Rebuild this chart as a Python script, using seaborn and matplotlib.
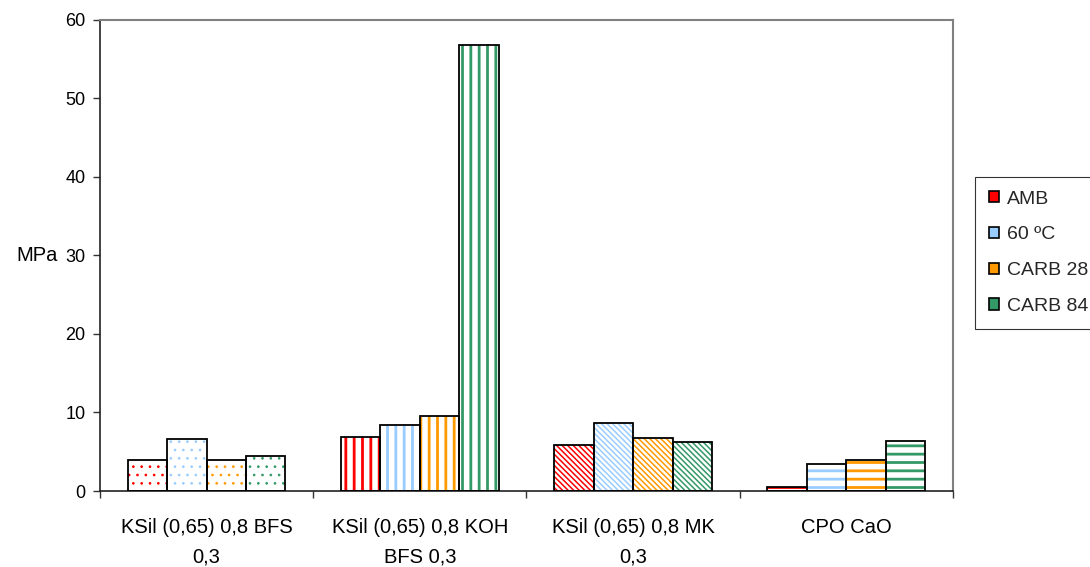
import numpy as np
import pandas as pd
import matplotlib
matplotlib.use("Agg")
import matplotlib.pyplot as plt
import seaborn as sns
from matplotlib.patches import Patch, Rectangle

# data
groups = ["KSil (0,65) 0,8 BFS\n0,3", "KSil (0,65) 0,8 KOH\nBFS 0,3",
          "KSil (0,65) 0,8 MK\n0,3", "CPO CaO"]
series = ["AMB", "60 ºC", "CARB 28", "CARB 84"]
amb = [4.0, 6.9, 5.9, 0.5]
c60 = [6.6, 8.4, 8.7, 3.4]
carb28 = [4.0, 9.6, 6.8, 4.0]
carb84 = [4.5, 56.8, 6.3, 6.4]
colors = ["#FF0000", "#99CCFF", "#FF9900", "#339966"]
hatches = ["..", "||", "\\\\\\\\\\\\", "--"]   # one pattern per group
hatch_lw = [0.7, 2.0, 1.1, 2.0]

df = pd.DataFrame({
    "group": np.repeat(groups, len(series)),
    "series": series * len(groups),
    "MPa": np.column_stack([amb, c60, carb28, carb84]).ravel(),
})

sns.set_theme(style="white")
plt.rcParams["font.family"] = ["Liberation Sans", "DejaVu Sans"]
plt.rcParams["hatch.linewidth"] = 1.8

fig = plt.figure(figsize=(10.9, 5.67), dpi=100)
ax = fig.add_axes([0.0917, 0.134, 0.7826, 0.831])

sns.barplot(data=df, x="group", y="MPa", hue="series", order=groups,
            hue_order=series, palette=colors, width=0.74, ax=ax,
            legend=False, errorbar=None)

# hatch in series colour on white, black outline on top
for si, cont in enumerate(ax.containers):
    for gi, p in enumerate(cont.patches):
        p.set_facecolor("white")
        p.set_edgecolor(colors[si])
        p.set_hatch(hatches[gi])
        p.set_linewidth(0)
        if hasattr(p, "set_hatch_linewidth"):
            p.set_hatch_linewidth(hatch_lw[gi])
        ax.add_patch(Rectangle(p.get_xy(), p.get_width(), p.get_height(),
                               fill=False, ec="black", lw=1.3, zorder=3))

ax.set_xlim(-0.5, len(groups) - 0.5)
ax.set_ylim(0, 60)
ax.set_yticks(range(0, 61, 10))
ax.set_xticks(np.arange(-0.5, len(groups), 1.0), minor=True)
ax.tick_params(axis="x", which="major", length=0, pad=19.5, labelsize=14.5)
ax.tick_params(axis="x", which="minor", length=5, width=1, direction="out",
               color="#333333", bottom=True)
ax.tick_params(axis="y", length=5, width=1, direction="out", left=True,
               pad=5.5, labelsize=13, color="#333333")
for t in ax.get_xticklabels():
    t.set_linespacing(1.7)
    t.set_color("black")
for t in ax.get_yticklabels():
    t.set_color("black")

ax.set_xlabel("")
ax.set_ylabel("MPa", rotation=0, fontsize=14.5, color="black", ha="right", va="center")
ax.yaxis.set_label_coords(-0.05, 0.5)

for s in ["left", "bottom"]:
    ax.spines[s].set_color("#222222")
    ax.spines[s].set_linewidth(1.2)
for s in ["top", "right"]:
    ax.spines[s].set_color("#808080")
    ax.spines[s].set_linewidth(1.5)

handles = [Patch(facecolor=c, edgecolor="black", linewidth=1.2) for c in colors]
leg = fig.legend(handles, series, loc="upper left", bbox_to_anchor=(0.8945, 0.688),
                 borderaxespad=0, frameon=True, fancybox=False, fontsize=14,
                 handlelength=0.55, handleheight=0.55, handletextpad=0.4,
                 labelspacing=0.97, borderpad=0.7)
leg.get_frame().set_edgecolor("black")
leg.get_frame().set_linewidth(0.8)

fig.savefig("out.png", dpi=100)
